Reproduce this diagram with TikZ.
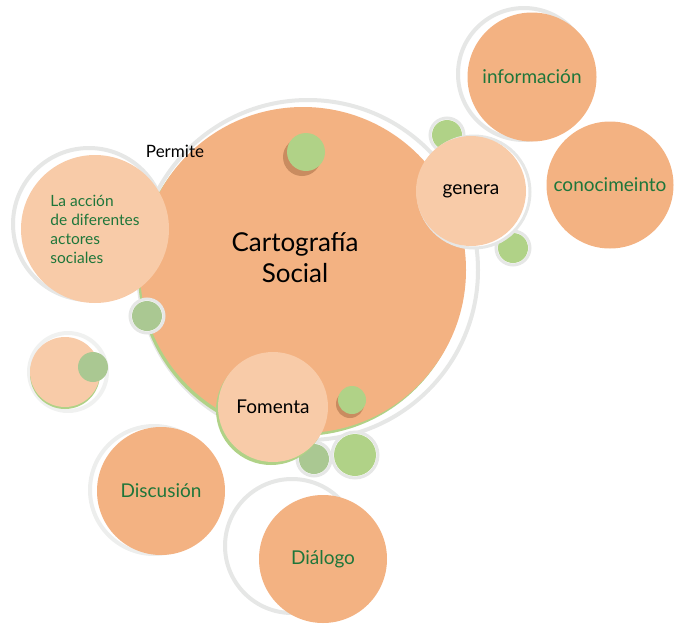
\documentclass[tikz,border=0pt]{standalone}
\usepackage{fontspec}
\setmainfont{Lato}
\usepackage{xcolor}
\definecolor{mainorange}{RGB}{243,178,130}
\definecolor{lightpeach}{RGB}{248,203,168}
\definecolor{dotgreen}{RGB}{176,210,135}
\definecolor{sagegreen}{RGB}{170,200,146}
\definecolor{ringgray}{RGB}{230,231,230}
\definecolor{textgreen}{RGB}{30,118,58}
\definecolor{shadowbrown}{RGB}{201,140,96}

\begin{document}
\begin{tikzpicture}[x=1pt,y=-1pt,
  ring/.style={draw=ringgray,line width=4pt,fill=white},
  bubble/.style={circle,fill=mainorange,inner sep=0pt,align=center,text=textgreen,font=\fontsize{19}{22}\selectfont},
  softbubble/.style={bubble,fill=lightpeach,text=black}]
\useasboundingbox (0,0) rectangle (685,624);

% Gray rings behind
\draw[ring] (308,270) circle (170);
\draw[ring] (524,74) circle (66);
\draw[ring,draw=ringgray!70] (154,490) circle (64);
\draw[ring] (292,546) circle (67);
\draw[ring,draw=ringgray!60] (68,372) circle (39);
\draw[ring] (89,224) circle (76);

% Main circle
\fill[dotgreen] (301,273) circle (163);
\node[bubble,minimum size=326pt] (carto) at (303,270) {};
\node[font=\fontsize{26}{31}\selectfont,align=center] (cartotext) at (295,258) {Cartografía\\Social};
\node[font=\fontsize{17}{20}\selectfont] (permite) at (175,151) {Permite};

% Top dot
\fill[shadowbrown] (302,157) circle (19);
\fill[dotgreen] (306,152) circle (19);

% Left side
\node[softbubble,minimum size=148pt,text=textgreen,align=left,font=\fontsize{15.5}{19}\selectfont] (accion) at (95,229) {La acción\\de diferentes\\actores\\sociales};
\draw[ring,line width=3pt] (147,316) circle (17);
\fill[sagegreen] (147,316) circle (15);
\fill[dotgreen] (65,374) circle (35);
\node[softbubble,minimum size=70pt] (small) at (65,372) {};
\fill[sagegreen] (93,367) circle (15);

% genera and its dots
\draw[ring,line width=3pt] (447,135) circle (17);
\fill[dotgreen] (447,135) circle (15);
\draw[ring,line width=3pt] (513,248) circle (17);
\fill[dotgreen] (513,248) circle (15);
\draw[ring,line width=3pt] (474,192) circle (56);
\node[softbubble,minimum size=110pt] (genera) at (471,191) {genera};

% Results of genera
\node[bubble,minimum size=129pt] (info) at (532,77) {información};
\node[bubble,minimum size=127pt] (conoc) at (610,185) {conocimeinto};

% Fomenta
\draw[ring,line width=3pt] (314,459) circle (17);
\fill[sagegreen] (314,459) circle (15);
\draw[ring,line width=3pt] (355,455) circle (23);
\fill[dotgreen] (355,455) circle (21);
\fill[dotgreen] (271,410) circle (55);
\node[softbubble,minimum size=110pt] (fomenta) at (273,407) {Fomenta};
\fill[shadowbrown] (350,404) circle (14);
\fill[dotgreen] (352,400) circle (14);

% Results of Fomenta
\node[bubble,minimum size=128pt] (discusion) at (161,491) {Discusión};
\node[bubble,minimum size=128pt] (dialogo) at (323,559) {Diálogo};
\end{tikzpicture}
\end{document}
